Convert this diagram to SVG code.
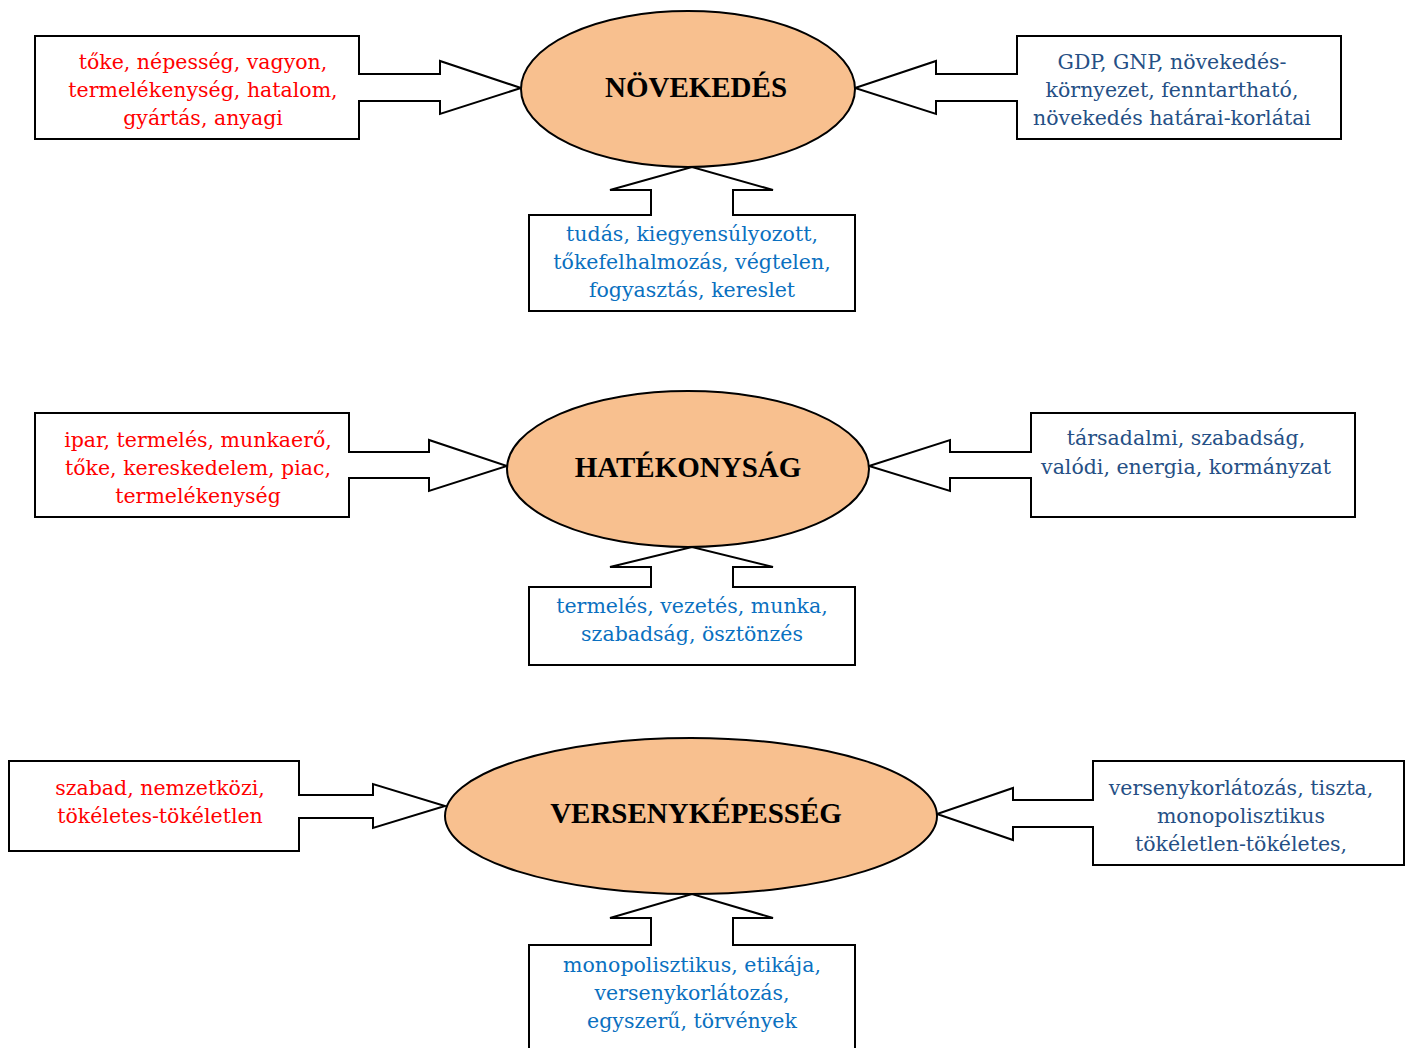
<svg xmlns="http://www.w3.org/2000/svg" width="1409" height="1048" viewBox="0 0 1409 1048">
<style>
.bg{fill:#fff}
.call{fill:#fff;stroke:#000;stroke-width:2;stroke-linejoin:miter}
.ell{fill:#F8C08F;stroke:#000;stroke-width:2}
.t{font-family:"DejaVu Serif","Liberation Serif",serif;font-size:20.5px;text-anchor:middle}
.red{fill:#FF0000}
.dk{fill:#254F85}
.lb{fill:#0A70C0}
.title{font-family:"Liberation Serif","DejaVu Serif",serif;font-size:29px;font-weight:bold;text-anchor:middle;fill:#000}
</style>
<rect class="bg" width="1409" height="1048"/>
<g id="connectors">
<path class="call" d="M35,36H359V74H440V61L521,88L440,114V101H359V139H35Z"/>
<path class="call" d="M1341,36H1017V74H936V61L855,88L936,114V101H1017V139H1341Z"/>
<path class="call" d="M529,311V215H651V190H610L692,167L773,190H733V215H855V311Z"/>
<path class="call" d="M35,413H349V452H429V440L507,466L429,491V478H349V517H35Z"/>
<path class="call" d="M1355,413H1031V452H950V440L869,466L950,491V478H1031V517H1355Z"/>
<path class="call" d="M529,665V587H651V567H610L692,547L773,567H733V587H855V665Z"/>
<path class="call" d="M9,761H299V795H373V784L445,806L373,828V818H299V851H9Z"/>
<path class="call" d="M1404,761H1093V800H1013V788L937,814L1013,840V827H1093V865H1404Z"/>
<path class="call" d="M529,1050V945H651V918H610L692,894L773,918H733V945H855V1050Z"/>
</g>
<g id="n-novekedes"><ellipse class="ell" cx="688" cy="89" rx="167" ry="78"/><text class="title" x="696" y="97">NÖVEKEDÉS</text></g>
<g id="n-hatekonysag"><ellipse class="ell" cx="688" cy="469" rx="181" ry="78"/><text class="title" x="688" y="477">HATÉKONYSÁG</text></g>
<g id="n-versenykepesseg"><ellipse class="ell" cx="691" cy="816" rx="246" ry="78"/><text class="title" x="696" y="823">VERSENYKÉPESSÉG</text></g>
<g id="box1-left"><text class="t red" x="203" y="69">tőke, népesség, vagyon,</text><text class="t red" x="203" y="97">termelékenység, hatalom,</text><text class="t red" x="203" y="125">gyártás, anyagi</text></g>
<g id="box1-right"><text class="t dk" x="1172" y="69">GDP, GNP, növekedés-</text><text class="t dk" x="1172" y="97">környezet, fenntartható,</text><text class="t dk" x="1172" y="125">növekedés határai-korlátai</text></g>
<g id="box1-bottom"><text class="t lb" x="692" y="241">tudás, kiegyensúlyozott,</text><text class="t lb" x="692" y="269">tőkefelhalmozás, végtelen,</text><text class="t lb" x="692" y="297">fogyasztás, kereslet</text></g>
<g id="box2-left"><text class="t red" x="198" y="447">ipar, termelés, munkaerő,</text><text class="t red" x="198" y="475">tőke, kereskedelem, piac,</text><text class="t red" x="198" y="503">termelékenység</text></g>
<g id="box2-right"><text class="t dk" x="1186" y="445">társadalmi, szabadság,</text><text class="t dk" x="1186" y="474">valódi, energia, kormányzat</text></g>
<g id="box2-bottom"><text class="t lb" x="692" y="613">termelés, vezetés, munka,</text><text class="t lb" x="692" y="641">szabadság, ösztönzés</text></g>
<g id="box3-left"><text class="t red" x="160" y="795">szabad, nemzetközi,</text><text class="t red" x="160" y="823">tökéletes-tökéletlen</text></g>
<g id="box3-right"><text class="t dk" x="1241" y="795">versenykorlátozás, tiszta,</text><text class="t dk" x="1241" y="823">monopolisztikus</text><text class="t dk" x="1241" y="851">tökéletlen-tökéletes,</text></g>
<g id="box3-bottom"><text class="t lb" x="692" y="972">monopolisztikus, etikája,</text><text class="t lb" x="692" y="1000">versenykorlátozás,</text><text class="t lb" x="692" y="1028">egyszerű, törvények</text></g>
</svg>
